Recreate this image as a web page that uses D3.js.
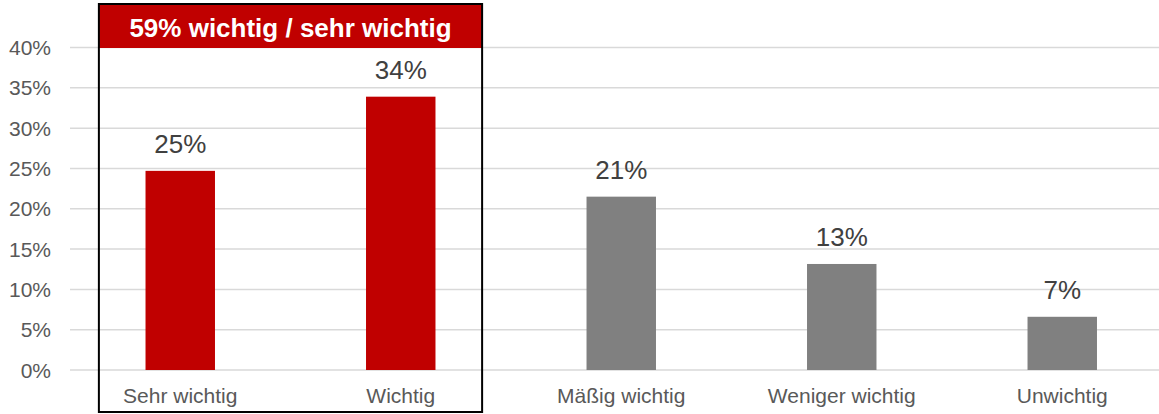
<!DOCTYPE html>
<html>
<head>
<meta charset="utf-8">
<script src="https://cdn.jsdelivr.net/npm/d3@7"></script>
<style>
  body { margin: 0; background: #fff; }
  svg { display: block; font-family: "Liberation Sans", Arial, sans-serif; }
</style>
</head>
<body>
<div id="chart"></div>
<script>
// data
var categories = ["Sehr wichtig", "Wichtig", "Mäßig wichtig", "Weniger wichtig", "Unwichtig"];
var values = [24.7, 33.9, 21.5, 13.15, 6.6];
var valueLabels = ["25%", "34%", "21%", "13%", "7%"];
var highlighted = ["Sehr wichtig", "Wichtig"];
var yTicks = [0, 5, 10, 15, 20, 25, 30, 35, 40];
var headerText = "59% wichtig / sehr wichtig";

var width = 1159, height = 414;

var svg = d3.select("#chart")
    .append("svg")
        .attr("width", width)
        .attr("height", height);

var x_scale = d3.scaleBand()
    .domain(categories)
    .range([70, 1172.5])
    .padding(0);

var y_scale = d3.scaleLinear()
    .domain([0, 40])
    .range([370, 47.5]);

var barWidth = x_scale.bandwidth() * 0.315;

// gridlines
svg.selectAll(".grid")
    .data(yTicks)
    .enter()
    .append("line")
    .attr("class", "grid")
    .attr("x1", 70)
    .attr("x2", width)
    .attr("y1", function(d) { return y_scale(d); })
    .attr("y2", function(d) { return y_scale(d); })
    .attr("stroke", "#d9d9d9")
    .attr("stroke-width", 1.5);

// y tick labels
svg.selectAll(".ytick")
    .data(yTicks)
    .enter()
    .append("text")
    .attr("class", "ytick")
    .attr("x", 51)
    .attr("y", function(d) { return y_scale(d); })
    .attr("dy", "0.36em")
    .attr("text-anchor", "end")
    .attr("fill", "#595959")
    .style("font-size", "21px")
    .text(function(d) { return d + "%"; });

// bars
svg.selectAll(".bar")
    .data(categories)
    .enter()
    .append("rect")
    .attr("class", "bar")
    .attr("x", function(d) { return x_scale(d) + x_scale.bandwidth() / 2 - barWidth / 2; })
    .attr("width", barWidth)
    .attr("y", function(d, i) { return y_scale(values[i]); })
    .attr("height", function(d, i) { return y_scale(0) - y_scale(values[i]); })
    .attr("fill", function(d) { return highlighted.indexOf(d) >= 0 ? "#c00000" : "#808080"; });

// value labels
svg.selectAll(".vlabel")
    .data(categories)
    .enter()
    .append("text")
    .attr("class", "vlabel")
    .attr("x", function(d) { return x_scale(d) + x_scale.bandwidth() / 2; })
    .attr("y", function(d, i) { return y_scale(values[i]) - 18; })
    .attr("text-anchor", "middle")
    .attr("fill", "#404040")
    .style("font-size", "26px")
    .text(function(d, i) { return valueLabels[i]; });

// category labels
svg.selectAll(".xlabel")
    .data(categories)
    .enter()
    .append("text")
    .attr("class", "xlabel")
    .attr("x", function(d) { return x_scale(d) + x_scale.bandwidth() / 2; })
    .attr("y", 403)
    .attr("text-anchor", "middle")
    .attr("fill", "#595959")
    .style("font-size", "21px")
    .text(function(d) { return d; });

// highlight box round the first two categories
var step = x_scale.step();
var boxLeft = x_scale(highlighted[0]) + step * 0.131;
var boxRight = x_scale(highlighted[1]) + x_scale.bandwidth() - step * 0.131;

svg.append("rect")
    .attr("x", boxLeft)
    .attr("y", 4)
    .attr("width", boxRight - boxLeft)
    .attr("height", 44)
    .attr("fill", "#c00000");

svg.append("rect")
    .attr("x", boxLeft)
    .attr("y", 4)
    .attr("width", boxRight - boxLeft)
    .attr("height", 408)
    .attr("fill", "none")
    .attr("stroke", "#000")
    .attr("stroke-width", 2);

svg.append("text")
    .attr("x", (boxLeft + boxRight) / 2)
    .attr("y", 37)
    .attr("text-anchor", "middle")
    .attr("fill", "#fff")
    .style("font-size", "26px")
    .style("font-weight", "bold")
    .text(headerText);
</script>
</body>
</html>
